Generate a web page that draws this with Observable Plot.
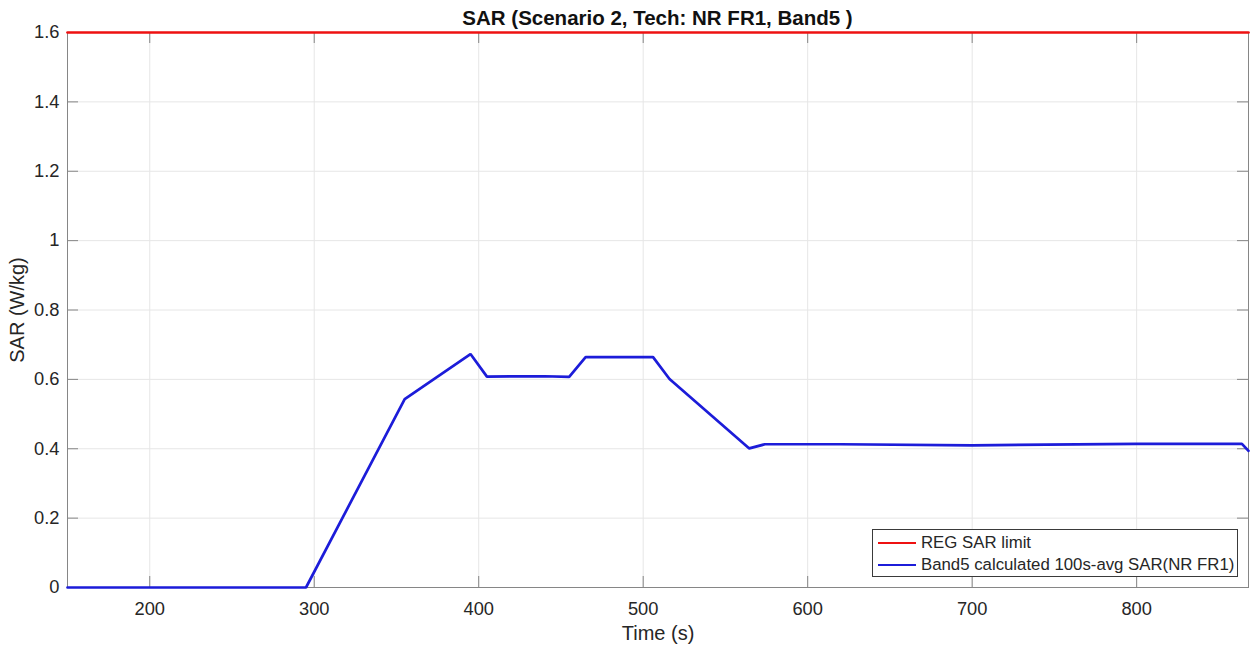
<!DOCTYPE html>
<html>
<head>
<meta charset="utf-8">
<script src="https://cdn.jsdelivr.net/npm/d3@7"></script>
<script src="https://cdn.jsdelivr.net/npm/@observablehq/plot@0.6"></script>
<style>
  html, body { margin: 0; padding: 0; background: #fff; }
  #wrap { position: relative; width: 1250px; height: 647px; overflow: hidden; font-family: "Liberation Sans", Arial, sans-serif; color: #262626; }
  #title { height: 26px; line-height: 36px; padding-left: 67px; padding-right: 2px; text-align: center; font-weight: bold; font-size: 20.5px; color: #111; white-space: nowrap; overflow: visible; }
  #legend { position: absolute; left: 872px; top: 529px; width: 366px; height: 48px; border: 1px solid #3a3a3a; background: #fff; box-sizing: border-box; padding-top: 2px; }
  .row { display: flex; align-items: center; height: 22px; font-size: 16.8px; white-space: nowrap; }
  .swatch { display: inline-block; width: 38px; height: 0; border-top: 2.7px solid; margin-left: 5px; margin-right: 5px; }
</style>
</head>
<body>
<div id="wrap">
  <div id="title"></div>
  <div id="chart"></div>
  <div id="legend"></div>
</div>
<script>
// ---- data ----
const titleText = "SAR (Scenario 2, Tech: NR FR1, Band5 )";
const xLabel = "Time (s)";
const yLabel = "SAR (W/kg)";
const xTicks = [200, 300, 400, 500, 600, 700, 800];
const yTicks = [0, 0.2, 0.4, 0.6, 0.8, 1, 1.2, 1.4, 1.6];
const xDomain = [150, 868];
const yDomain = [0, 1.6];

const regName = "REG SAR limit";
const regTime = [150, 868];
const regSar = [1.6, 1.6];

const bandName = "Band5 calculated 100s-avg SAR(NR FR1)";
const bandTime = [150, 295, 355, 395, 405, 440, 455, 465, 506, 516, 564.5, 574, 620, 700, 800, 864, 868];
const bandSar  = [0,   0,   0.543, 0.673, 0.608, 0.609, 0.607, 0.664, 0.664, 0.601, 0.401, 0.413, 0.413, 0.410, 0.414, 0.414, 0.394];

// ---- styles ----
const RED = "#ee1111";
const BLUE = "#1c1cd9";
const TXT = "#262626";
const AXIS = "#868686";
const GRID = "#e6e6e6";

const W = 1250, H = 621;
const mL = 67, mR = 2, mT = 6, mB = 60;
const plotW = W - mL - mR, plotH = H - mT - mB;
const TL = 11;

const regData = regTime.map((t, i) => ({t, v: regSar[i]}));
const bandData = bandTime.map((t, i) => ({t, v: bandSar[i]}));

document.getElementById("title").textContent = titleText;

const chart = Plot.plot({
  width: W,
  height: H,
  marginLeft: mL,
  marginRight: mR,
  marginTop: mT,
  marginBottom: mB,
  style: { fontFamily: "'Liberation Sans', Arial, sans-serif", fontSize: "18px", color: TXT, background: "#fff", overflow: "visible" },
  x: { domain: xDomain, axis: null },
  y: { domain: yDomain, axis: null },
  marks: [
    Plot.gridX(xTicks, { stroke: GRID, strokeOpacity: 1 }),
    Plot.gridY(yTicks, { stroke: GRID, strokeOpacity: 1 }),
    Plot.frame({ stroke: AXIS, strokeWidth: 1 }),
    // inward ticks
    Plot.tickX(xTicks, { x: d => d, stroke: AXIS, insetTop: plotH - TL }),
    Plot.tickX(xTicks, { x: d => d, stroke: AXIS, insetBottom: plotH - TL }),
    Plot.tickY(yTicks, { y: d => d, stroke: AXIS, insetRight: plotW - TL }),
    Plot.tickY(yTicks, { y: d => d, stroke: AXIS, insetLeft: plotW - TL }),
    Plot.axisX(xTicks, { tickSize: 0, tickPadding: 14, fontSize: 18.3, fill: TXT, label: null, tickFormat: d => String(d) }),
    Plot.axisY(yTicks, { tickSize: 0, tickPadding: 8, fontSize: 18.3, fill: TXT, label: null, tickFormat: d => String(d) }),
    Plot.line(regData, { x: "t", y: "v", stroke: RED, strokeWidth: 2.7 }),
    Plot.line(bandData, { x: "t", y: "v", stroke: BLUE, strokeWidth: 2.7, strokeLinejoin: "miter" }),
    Plot.text([xLabel], { text: d => d, frameAnchor: "bottom", lineAnchor: "middle", textAnchor: "middle", dy: 46, fontSize: 20, fill: TXT }),
    Plot.text([yLabel], { text: d => d, frameAnchor: "left", textAnchor: "middle", lineAnchor: "middle", dx: -50, rotate: -90, fontSize: 20, fill: TXT })
  ]
});
document.getElementById("chart").appendChild(chart);

const legend = document.getElementById("legend");
[[regName, RED], [bandName, BLUE]].forEach(([name, color]) => {
  const row = document.createElement("div");
  row.className = "row";
  const sw = document.createElement("span");
  sw.className = "swatch";
  sw.style.borderTopColor = color;
  const label = document.createElement("span");
  label.textContent = name;
  row.appendChild(sw);
  row.appendChild(label);
  legend.appendChild(row);
});
</script>
</body>
</html>
